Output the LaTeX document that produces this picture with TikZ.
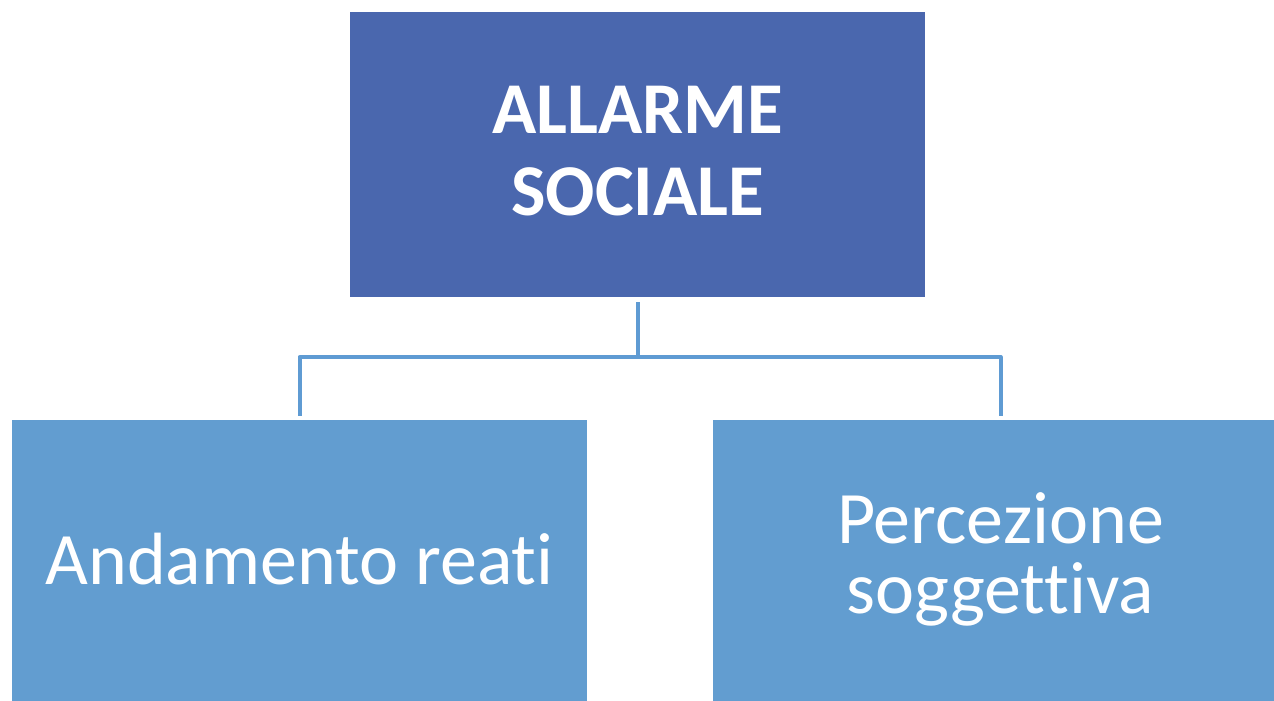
\documentclass[tikz,border=0pt]{standalone}
\usepackage{fontspec}
\setmainfont{Carlito}[Ligatures=NoCommon]
\definecolor{topblue}{RGB}{74,103,174}
\definecolor{boxblue}{RGB}{98,157,208}
\definecolor{lineblue}{RGB}{95,155,211}
\begin{document}
\begin{tikzpicture}[x=1pt,y=-1pt,
  box/.style={draw=none,fill=#1,minimum width=575pt,minimum height=285pt,inner sep=0pt,outer sep=0pt},
  conn/.style={draw=lineblue,line width=4pt,line join=round},
  lbl/.style={text=white,align=center,inner sep=0pt,anchor=base}]
\useasboundingbox (0,0) rectangle (1274,701);
\clip (0,0) rectangle (1274,701);
\fill[white] (0,0) rectangle (1274,701);
\node[box=topblue] (top) at (637.5,154.5) {};
\node[box=boxblue] (left) at (299.5,562.5) {};
\node[box=boxblue] (right) at (1000.5,562.5) {};
\coordinate (j) at (637.5,357);
\draw[conn,shorten <=5pt] (top.south) -- (j);
\draw[conn,shorten >=4pt] (j) -| (left.north);
\draw[conn,shorten >=4pt] (j) -| (right.north);
\node[lbl,font=\fontsize{73}{82}\selectfont\bfseries] (t1) at (637.5,215) {ALLARME\\SOCIALE};
\node[lbl,font=\fontsize{74}{74}\selectfont] (t2) at (299.5,584) {Andamento reati};
\node[lbl,font=\fontsize{74}{70}\selectfont] (t3) at (1000.5,613) {Percezione\\soggettiva};
\end{tikzpicture}
\end{document}
